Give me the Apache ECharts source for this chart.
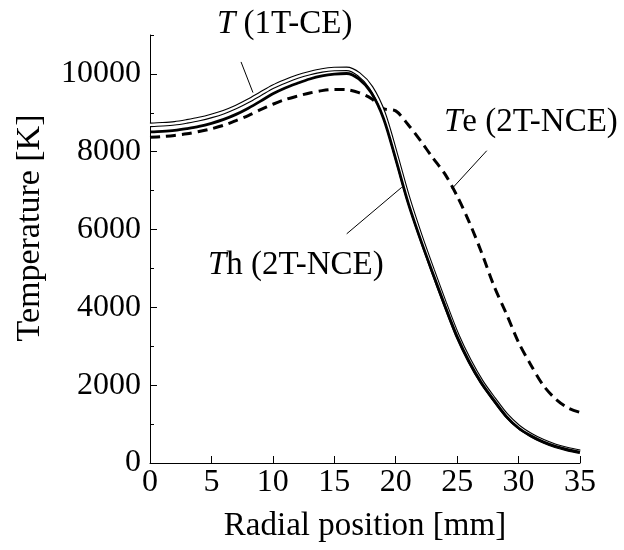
<!DOCTYPE html>
<html>
<head>
<meta charset="utf-8">
<script src="https://cdn.jsdelivr.net/npm/echarts@6/dist/echarts.min.js"></script>
<style>html,body{margin:0;padding:0;background:#fff}#c{width:624px;height:550px}</style>
</head>
<body>
<div id="c"></div>
<script>
// Radial positions [mm]
var positions = [0, 1, 2, 3, 4, 5, 6, 7, 8, 9, 10, 11, 12, 13, 14, 15, 16, 17, 18, 19, 20, 21, 22, 23, 24, 25, 26, 27, 28, 29, 30, 31, 32, 33, 34, 35];
// T (1T-CE) [K]
var tOneT = [8690, 8705, 8730, 8780, 8840, 8920, 9020, 9150, 9310, 9490, 9670, 9810, 9930, 10020, 10090, 10125, 10130, 9990, 9650, 9000, 7940, 6820, 5850, 4960, 4100, 3290, 2630, 2080, 1640, 1230, 930, 720, 560, 440, 355, 290];
// Th (2T-NCE) [K]
var tHeavy = [8510, 8525, 8550, 8595, 8650, 8730, 8830, 8960, 9120, 9300, 9490, 9640, 9760, 9870, 9950, 9995, 10010, 9870, 9520, 8860, 7810, 6700, 5760, 4890, 4050, 3250, 2590, 2050, 1610, 1200, 900, 700, 545, 430, 345, 280];
// Te (2T-NCE) [K]
var tElec = [8370, 8390, 8420, 8460, 8520, 8590, 8680, 8800, 8930, 9080, 9220, 9340, 9430, 9510, 9570, 9600, 9595, 9520, 9370, 9110, 9050, 8700, 8290, 7850, 7430, 6860, 6180, 5400, 4550, 3840, 3100, 2520, 2000, 1650, 1420, 1300];
// tick values
var xTicks = [0, 5, 10, 15, 20, 25, 30, 35];
var yMajor = [0, 2000, 4000, 6000, 8000, 10000];
var yMinor = [1000, 3000, 5000, 7000, 9000, 11000];

function pairs(xs, ys) { return xs.map(function (x, i) { return [x, ys[i]]; }); }

var FONT = 'Liberation Serif';
var FS_TICK = 32;
var FS_XNAME = 33;
var FS_YNAME = 34;
var FS_ANN = 33;
var SM = 0.3;
var ann = function (txt, left, top) {
  return {type: 'text', left: left, top: top, style: {text: txt, font: FS_ANN + 'px "' + FONT + '"', fill: '#000',
    rich: {i: {fontStyle: 'italic', fontSize: FS_ANN, fontFamily: FONT}}}};
};
var chart = echarts.init(document.getElementById('c'), null, {renderer: 'canvas'});
var option = {
  animation: false,
  backgroundColor: '#fff',
  textStyle: {fontFamily: FONT, color: '#000'},
  grid: {left: 150, right: 44, top: 35, bottom: 87, containLabel: false},
  xAxis: {
    type: 'value', min: 0, max: 35, interval: 5,
    name: 'Radial position [mm]', nameLocation: 'middle', nameGap: 47,
    nameTextStyle: {fontFamily: FONT, fontSize: FS_XNAME, color: '#000'},
    axisLine: {show: true, lineStyle: {color: '#000', width: 1}},
    axisTick: {show: true, inside: true, length: 7, lineStyle: {color: '#000', width: 1}, customValues: xTicks},
    axisLabel: {fontFamily: FONT, fontSize: FS_TICK, color: '#000', margin: 4, customValues: xTicks,
      formatter: function (v) { return String(v); }},
    splitLine: {show: false}
  },
  yAxis: [{
    type: 'value', min: 0, max: 11000, interval: 1000,
    axisLine: {show: true, lineStyle: {color: '#000', width: 1}},
    axisTick: {show: true, inside: true, length: 7, lineStyle: {color: '#000', width: 1}, customValues: yMajor},
    axisLabel: {fontFamily: FONT, fontSize: FS_TICK, color: '#000', margin: 9, customValues: yMajor,
      formatter: function (v) { return String(v); }},
    splitLine: {show: false}
  }, {
    type: 'value', min: 0, max: 11000, interval: 1000, position: 'left',
    axisLine: {show: false},
    axisTick: {show: true, inside: true, length: 4, lineStyle: {color: '#000', width: 1}, customValues: yMinor},
    axisLabel: {show: false},
    splitLine: {show: false}
  }],
  series: [
    {
      type: 'line', name: 'Te', data: pairs(positions, tElec), smooth: SM, showSymbol: false, z: 2,
      lineStyle: {color: '#000', width: 3, type: [10, 6]}
    },
    {
      type: 'line', name: 'T outline', data: pairs(positions, tOneT), smooth: SM, showSymbol: false, z: 3,
      lineStyle: {color: '#000', width: 4.6}
    },
    {
      type: 'line', name: 'T inner', data: pairs(positions, tOneT), smooth: SM, showSymbol: false, z: 4,
      lineStyle: {color: '#fff', width: 2.4}
    },
    {
      type: 'line', name: 'Th', data: pairs(positions, tHeavy), smooth: SM, showSymbol: false, z: 5,
      lineStyle: {color: '#000', width: 2.8},
      markLine: {
        silent: true, symbol: 'none', label: {show: false},
        lineStyle: {color: '#000', width: 1, type: 'solid'},
        data: [
          [{coord: [7.41, 10308]}, {coord: [8.38, 9520]}],
          [{coord: [16.01, 5890]}, {coord: [20.49, 7085]}],
          [{coord: [27.41, 8026]}, {coord: [24.56, 7044]}]
        ]
      }
    }
  ],
  graphic: [
    {type: 'text', x: 30, y: 228, rotation: Math.PI / 2,
      style: {text: 'Temperature [K]', font: FS_YNAME + 'px "' + FONT + '"', fill: '#000', align: 'center', verticalAlign: 'middle'}},
    ann('{i|T} (1T-CE)', 217, 8),
    ann('{i|T}h (2T-NCE)', 208, 249),
    ann('{i|T}e (2T-NCE)', 444, 106)
  ]
};
chart.setOption(option);
</script>
</body>
</html>
